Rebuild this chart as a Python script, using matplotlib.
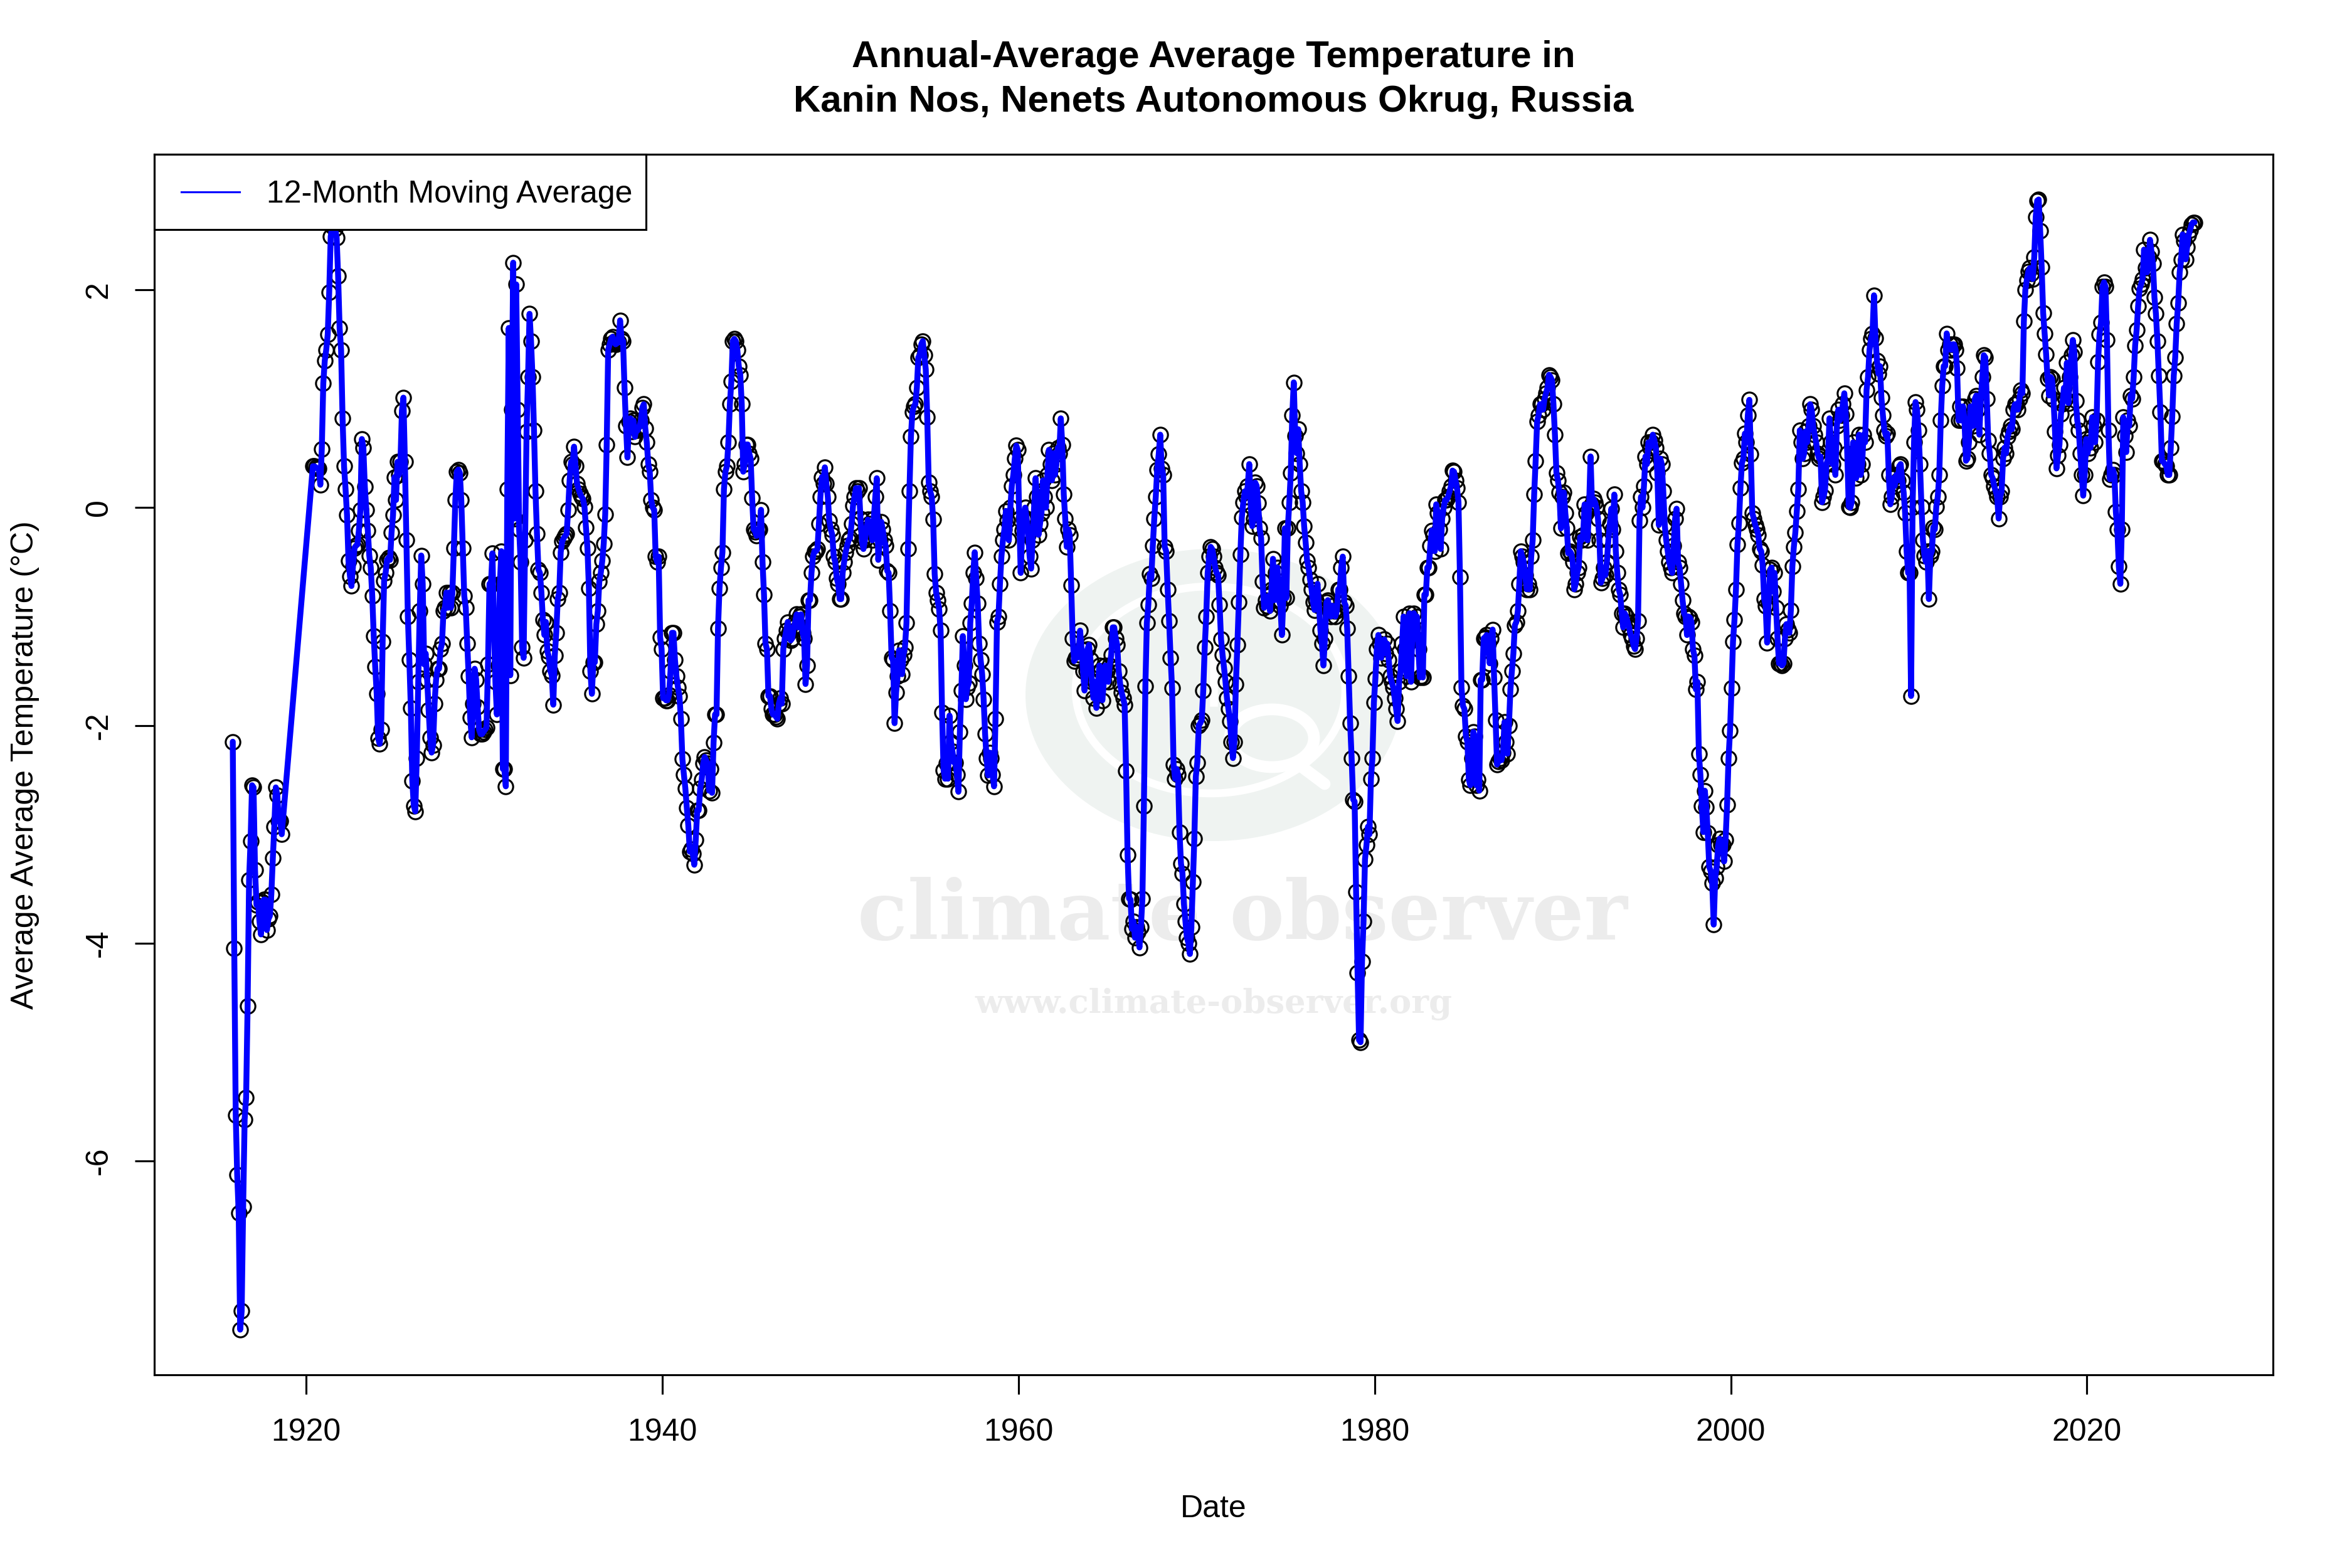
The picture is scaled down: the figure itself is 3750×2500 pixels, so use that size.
import numpy as np
import matplotlib
matplotlib.use("Agg")
import matplotlib.pyplot as plt
from matplotlib.lines import Line2D
from matplotlib.patches import Ellipse, Rectangle

TITLE = "Annual-Average Average Temperature in\nKanin Nos, Nenets Autonomous Okrug, Russia"
XLABEL = "Date"
YLABEL = "Average Average Temperature (°C)"
LEGEND_LABEL = "12-Month Moving Average"
X_TICKS = [1920, 1940, 1960, 1980, 2000, 2020]
Y_TICKS = [-6, -4, -2, 0, 2]
Y_TICK_LABELS = ["-6", "-4", "-2", "0", "2"]

# monthly values, first run starts Nov 1915
temps_1915_1918 = [
    -2.15, -4.05,
    -5.58, -6.13, -6.48, -7.55, -7.38, -6.42, -5.62, -5.42, -4.58, -3.42, -3.06, -2.55,
    -2.57, -3.33, -3.65, -3.62, -3.80, -3.92, -3.62, -3.60, -3.60, -3.88, -3.78, -3.75,
    -3.55, -3.22, -2.93, -2.57, -2.64, -2.88, -2.88, -3.00,
]
# second run starts May 1920
temps_1920s = [
    .38, .38, .37, .36, .36, .21, .54, 1.14,
    1.35, 1.45, 1.59, 1.98, 2.49, 2.58, 2.6, 2.56, 2.48, 2.13, 1.65, 1.45,
    .82, .38, .17, -.07, -.49, -.63, -.72, -.54, -.37, -.35, -.34, -.21,
    -.02, .63, .55, .19, -.02, -.21, -.44, -.55, -.81, -1.18, -1.46, -1.71,
    -2.12, -2.17, -2.04, -1.23, -.67, -.6, -.48, -.46, -.48, -.23, -.07, .28,
    .07, .42, .3, .42, .89, 1.01, .42, -.3, -1.0, -1.4, -1.84, -2.51,
    -2.74, -2.79, -2.3, -1.6, -.95, -.44, -.7, -1.44, -1.34, -1.58, -1.86, -2.11,
    -2.25, -2.18, -1.8, -1.58, -1.48, -1.48, -1.3, -1.25, -.95, -.92, -.78, -.92,
    -.78, -.92, -.78, -.37, .07, .33, .35, .32, .07, -.37, -.81, -.92,
    -1.25, -1.55, -1.93, -2.11, -1.8, -1.48, -1.58, -1.83, -2.04, -2.08, -2.08, -2.06,
]
temps_1930s = [
    -2.04, -2.02, -1.44, -.7, -.7, -.42, -1.1, -1.6, -1.9, -1.45, -.7, -.4,
    -2.4, -2.4, -2.56, .17, 1.65, -1.54, .9, 2.25, -.1, 2.05, .9, -.2,
    -.5, -1.28, -1.38, -.3, .7, 1.2, 1.78, 1.53, 1.2, .71, .15, -.24,
    -.57, -.6, -.78, -1.03, -1.17, -1.05, -1.32, -1.37, -1.5, -1.54, -1.81, -1.36,
    -1.15, -.84, -.78, -.41, -.31, -.28, -.26, -.24, -.02, .25, .42, .4,
    .56, .38, .22, .17, .13, .1, .08, .01, -.18, -.37, -.74, -1.5,
    -1.71, -1.42, -1.42, -1.07, -.95, -.68, -.6, -.49, -.33, -.06, .58, 1.45,
    1.5, 1.55, 1.57, 1.52, 1.5, 1.51, 1.52, 1.72, 1.55, 1.53, 1.1, .75,
    .46, .79, .82, .7, .8, .65, .72, .71, .74, .8, .92, .95,
    .73, .6, .4, .33, .07, 0, -.02, -.45, -.5, -.45, -1.19, -1.3,
]
temps_1940s = [
    -1.75, -1.75, -1.77, -1.77, -1.72, -1.5, -1.15, -1.15, -1.4, -1.55, -1.65, -1.73,
    -1.94, -2.31, -2.45, -2.58, -2.76, -2.92, -3.16, -3.14, -3.18, -3.28, -3.05, -2.78,
    -2.78, -2.58, -2.5, -2.35, -2.29, -2.32, -2.35, -2.6, -2.4, -2.62, -2.16, -1.9,
    -1.9, -1.11, -.74, -.55, -.41, .17, .33, .38, .6, .95, 1.16, 1.53,
    1.55, 1.53, 1.45, 1.3, 1.22, .95, .33, .4, .58, .58, .5, .45,
    .09, -.2, -.22, -.26, -.2, -.2, -.02, -.5, -.8, -1.25, -1.3, -1.73,
    -1.73, -1.85, -1.9, -1.9, -1.92, -1.94, -1.8, -1.75, -1.8, -1.3, -1.2, -1.13,
    -1.05, -1.15, -1.22, -1.2, -1.1, -1.05, -.98, -1.1, -1.0, -.98, -1.15, -1.2,
    -1.62, -1.45, -.85, -.85, -.6, -.45, -.4, -.4, -.38, -.15, .1, .28,
    .22, .37, .22, .1, -.12, -.2, -.25, -.45, -.5, -.65, -.7, -.84,
]
temps_1950s = [
    -.84, -.6, -.5, -.41, -.35, -.3, -.28, -.15, .02, .1, .18, .15,
    .18, -.1, -.31, -.38, -.3, -.2, -.11, -.15, -.18, -.3, -.1, .1,
    .27, -.48, -.3, -.13, -.2, -.3, -.35, -.58, -.6, -.95, -1.38, -1.4,
    -1.98, -1.7, -1.55, -1.31, -1.4, -1.53, -1.35, -1.28, -1.06, -.38, .15, .65,
    .88, .93, .95, 1.1, 1.38, 1.4, 1.5, 1.53, 1.4, 1.27, .83, .23,
    .15, .1, -.11, -.61, -.78, -.85, -.93, -1.13, -1.88, -2.41, -2.49, -2.35,
    -2.49, -1.91, -2.15, -2.24, -2.34, -2.34, -2.45, -2.61, -2.06, -1.68, -1.18, -1.45,
    -1.76, -1.65, -1.61, -1.06, -.88, -.6, -.41, -.65, -.88, -1.25, -1.4, -1.53,
    -1.76, -2.08, -2.3, -2.46, -2.25, -2.3, -2.45, -2.56, -1.94, -1.05, -1.0, -.7,
    -.45, -.3, -.2, -.03, -.12, -.3, 0, .2, .3, .45, .57, .53,
]
temps_1960s = [
    -.1, -.6, -.21, -.1, 0, -.1, -.25, -.45, -.56, -.3, 0, .27,
    .1, -.25, -.15, -.05, .25, .1, 0, .3, .53, .4, .25, .5,
    .3, .4, .55, .5, .82, .58, .12, -.1, -.36, -.2, -.25, -.71,
    -1.2, -1.41, -1.38, -1.38, -1.35, -1.13, -1.3, -1.5, -1.68, -1.5, -1.3, -1.26,
    -1.4, -1.6, -1.75, -1.6, -1.84, -1.65, -1.45, -1.5, -1.77, -1.6, -1.45, -1.5,
    -1.6, -1.45, -1.35, -1.1, -1.1, -1.2, -1.26, -1.5, -1.62, -1.7, -1.75, -1.81,
    -2.42, -3.19, -3.59, -3.6, -3.87, -3.8, -3.95, -3.85, -3.9, -4.04, -3.85, -3.59,
    -2.74, -1.64, -1.06, -.89, -.61, -.65, -.35, -.1, .1, .35, .49, .67,
    .36, .3, -.36, -.4, -.75, -1.04, -1.38, -1.66, -2.36, -2.49, -2.4, -2.45,
    -2.98, -3.27, -3.36, -3.64, -3.8, -3.95, -4.0, -4.1, -3.85, -3.44, -3.04, -2.47,
]
temps_1970s = [
    -2.34, -2.0, -1.98, -1.95, -1.68, -1.28, -1.0, -.6, -.45, -.36, -.38, -.45,
    -.55, -.6, -.62, -.89, -1.21, -1.35, -1.47, -1.6, -1.75, -1.85, -1.96, -2.15,
    -2.3, -2.15, -1.62, -1.26, -.87, -.43, -.09, .05, .15, .1, .2, .4,
    .02, -.17, -.1, .23, .2, .04, -.19, -.28, -.68, -.92, -.85, -.9,
    -.81, -.95, -.75, -.47, -.85, -.6, -.55, -.85, -.9, -1.17, -.83, -.19,
    -.83, -.19, .05, .32, .85, 1.15, .66, .5, .72, .4, .15, .05,
    -.17, -.32, -.49, -.55, -.66, -.75, -.87, -.94, -.85, -.7, -.9, -1.13,
    -1.25, -1.45, -1.2, -.87, -.85, -.95, -1.0, -.9, -.95, -1.0, -.95, -.75,
    -.75, -.55, -.45, -.87, -.9, -1.11, -1.55, -1.98, -2.3, -2.68, -2.7, -3.53,
    -4.27, -4.89, -4.91, -4.17, -3.8, -3.23, -3.1, -2.93, -3.0, -2.49, -2.3, -1.79,
]
temps_1980s = [
    -1.57, -1.3, -1.17, -1.25, -1.38, -1.3, -1.21, -1.34, -1.25, -1.4, -1.55, -1.6,
    -1.65, -1.75, -1.85, -1.96, -1.6, -1.5, -1.25, -1.0, -1.3, -1.55, -1.25, -.97,
    -1.6, -1.1, -.97, -1.2, -1.0, -1.3, -1.56, -1.55, -1.56, -.8, -.8, -.55,
    -.55, -.35, -.21, -.25, -.4, .03, -.05, -.2, -.38, -.1, 0, .07,
    .07, .1, .15, .2, .34, .33, .25, .18, .05, -.64, -1.65, -1.82,
    -1.85, -2.1, -2.15, -2.5, -2.55, -2.3, -2.06, -2.1, -2.55, -2.5, -2.6, -1.58,
    -1.58, -1.2, -1.19, -1.17, -1.25, -1.43, -1.2, -1.12, -1.56, -1.95, -2.36, -2.33,
    -2.3, -2.32, -2.25, -1.97, -2.15, -2.26, -2.0, -1.67, -1.5, -1.34, -1.08, -1.05,
    -.95, -.7, -.4, -.45, -.5, -.62, -.75, -.7, -.75, -.45, -.3, .12,
    .43, .79, .85, .95, .95, .9, 1.0, 1.05, 1.1, 1.22, 1.2, 1.17,
]
temps_1990s = [
    .95, .67, .32, .25, .14, -.19, .1, .14, -.05, -.19, -.42, -.4,
    -.42, -.5, -.75, -.7, -.6, -.55, -.27, -.3, -.25, .03, -.05, -.3,
    0, .47, .03, .08, .05, 0, -.1, -.3, -.69, -.65, -.55, -.62,
    -.5, -.3, -.15, -.01, -.2, .12, -.4, -.6, -.75, -.8, -.97, -1.1,
    -.97, -1.0, -1.05, -1.1, -1.17, -1.2, -1.27, -1.3, -1.2, -1.04, -.12, .1,
    0, .2, .47, .4, .6, .55, .6, .67, .62, .55, .32, -.16,
    .45, .4, .15, -.16, -.3, -.4, -.5, -.55, -.6, -.35, -.1, -.01,
    -.5, -.55, -.7, -.85, -.97, -1.0, -1.17, -1.0, -1.01, -1.05, -1.3, -1.36,
    -1.67, -1.6, -2.26, -2.45, -2.74, -2.98, -2.6, -2.75, -2.99, -3.3, -3.34, -3.45,
    -3.83, -3.4, -3.3, -3.1, -3.04, -3.1, -3.1, -3.25, -3.05, -2.73, -2.3, -2.05,
]
temps_2000s = [
    -1.66, -1.23, -1.03, -.75, -.34, -.14, .18, .41, .45, .68, .6, .85,
    .99, .49, -.05, -.1, -.16, -.2, -.25, -.38, -.4, -.53, -.84, -.9,
    -1.24, -.88, -.57, -.55, -.77, -.6, -.92, -1.2, -1.43, -1.43, -1.45, -1.43,
    -1.2, -1.07, -1.12, -1.15, -.94, -.54, -.36, -.23, -.03, .17, .71, .6,
    .45, .5, .7, .6, .75, .95, .9, .75, .67, .6, .5, .45,
    .47, .05, .1, .16, .4, .45, .82, .6, .4, .55, .3, .75,
    .9, .8, .85, .95, 1.05, .86, .5, .01, 0, .05, .6, .45,
    .27, .4, .67, .3, .4, .67, .6, 1.08, 1.2, 1.45, 1.55, 1.6,
    1.95, 1.56, 1.35, 1.23, 1.3, 1.01, .85, .71, .66, .68, .3, .03,
    .1, .27, .2, .3, .25, .38, .4, .25, .14, -.05, -.4, -.6,
]
temps_2010s = [
    -.6, -1.73, 0, .6, .97, .9, .71, .4, .01, -.3, -.44, -.5,
    -.4, -.84, -.44, -.4, -.18, -.2, .01, .1, .3, .8, 1.12, 1.3,
    1.3, 1.6, 1.45, 1.5, 1.45, 1.5, 1.5, 1.45, 1.28, .8, .93, .8,
    .93, .8, .43, .45, .6, .93, .85, .75, 1.0, 1.03, .9, .67,
    1.0, 1.2, 1.4, 1.38, 1.0, .62, .5, .3, .27, .2, .15, .1,
    -.1, .1, .15, .45, .55, .5, .65, .7, .75, .72, .9, .95,
    .95, .9, 1.0, 1.08, 1.05, 1.71, 2.0, 2.09, 2.17, 2.2, 2.15, 2.1,
    2.3, 2.67, 2.82, 2.83, 2.54, 2.21, 1.79, 1.6, 1.41, 1.18, 1.03, 1.2,
    1.18, .99, .7, .36, .48, .58, .86, .95, 1.1, 1.0, 1.33, .96,
    1.2, 1.4, 1.54, 1.43, .98, .8, .71, .5, .3, .11, .3, .63,
]
temps_2020s = [
    .5, .6, .55, .83, .75, .6, .8, 1.34, 1.59, 1.7, 2.03, 2.07,
    2.03, 1.54, .71, .26, .3, .35, .3, -.04, -.2, -.54, -.7, -.2,
    .83, .66, .51, .8, .75, 1.03, 1.0, 1.2, 1.49, 1.63, 1.85, 2.01,
    2.05, 2.1, 2.37, 2.2, 2.16, 2.3, 2.46, 2.35, 2.24, 1.93, 1.78, 1.53,
    1.21, .88, .43, .42, .4, .38, .3, .3, .55, .84, 1.21, 1.38,
    1.69, 1.88, 2.16, 2.28, 2.51, 2.45, 2.28, 2.39, 2.5, 2.55, 2.6, 2.62,
    2.62,
]

early = np.array(temps_1915_1918)
later = np.array(temps_1920s + temps_1930s + temps_1940s + temps_1950s + temps_1960s
                 + temps_1970s + temps_1980s + temps_1990s + temps_2000s + temps_2010s + temps_2020s)
values = np.concatenate([early, later])
dates = np.concatenate([1915 + 10.5 / 12 + np.arange(early.size) / 12,
                        1920 + 4.5 / 12 + np.arange(later.size) / 12])

W, H, DPI = 3750, 2500, 300
plt.rcParams["font.family"] = ["Liberation Sans", "DejaVu Sans"]
plt.rcParams["axes.unicode_minus"] = False
fig = plt.figure(figsize=(W / DPI, H / DPI), dpi=DPI, facecolor="white")

# watermark layer, in pixel coordinates
bg = fig.add_axes([0, 0, 1, 1], zorder=0)
bg.set_xlim(0, W)
bg.set_ylim(H, 0)
bg.axis("off")
bg.add_patch(Ellipse((1935, 1108), 600, 466, fc="#eff3f1", ec="none"))
bg.add_patch(Ellipse((1930, 1100), 430, 330, fc="none", ec="white", lw=3))
bg.add_patch(Ellipse((2028, 1177), 134, 92, fc="#eff3f1", ec="white", lw=4.5))
bg.plot([2068, 2112], [1217, 1250], color="white", lw=4.5, solid_capstyle="round")
bg.plot([1935, 1935], [960, 1120], color="white", lw=3)
bg.text(1981, 1461, "climate observer", family="DejaVu Serif", weight="bold",
        fontsize=31.5, color="#ececec", ha="center", va="center")
bg.text(1935, 1601, "www.climate-observer.org", family="DejaVu Serif", weight="bold",
        fontsize=12.7, color="#ececec", ha="center", va="center")

L, R, T, B = 246, 3624, 246, 2192
ax = fig.add_axes([L / W, 1 - B / H, (R - L) / W, (B - T) / H], zorder=1)
ax.patch.set_alpha(0)
ax.plot(dates, values, ls="none", marker="o", ms=5.6, mfc="none", mec="black", mew=0.75)
ax.plot(dates, values, color="#0000ff", lw=2.25, solid_capstyle="round", solid_joinstyle="round")

span_x = dates.max() - dates.min()
span_y = values.max() - values.min()
ax.set_xlim(dates.min() - 0.04 * span_x, dates.max() + 0.04 * span_x)
ax.set_ylim(values.min() - 0.04 * span_y, values.max() + 0.04 * span_y)

ax.set_xticks(X_TICKS)
ax.set_yticks(Y_TICKS)
ax.set_yticklabels(Y_TICK_LABELS, rotation=90, va="center")
ax.tick_params(length=7.5, width=0.75, labelsize=12, pad=9)
ax.tick_params(axis="y", pad=8.2)
for s in ax.spines.values():
    s.set_linewidth(0.75)

fig.text(1935 / W, 1 - 2406 / H, XLABEL, fontsize=12, ha="center", va="center")
fig.text(40 / W, 1 - 1220 / H, YLABEL, fontsize=12, rotation=90, ha="center", va="center")
fig.text(1935 / W, 1 - 127 / H, TITLE, fontsize=14.4, weight="bold", ha="center", va="center",
         linespacing=1.38)

# legend box drawn to the reference's uneven padding, with a real legend inside it
ax.add_patch(Rectangle((L / W, 1 - 366 / H), (1030 - L) / W, 120 / H, transform=fig.transFigure,
                       fc="white", ec="black", lw=0.75, zorder=4, clip_on=False))
handle = Line2D([], [], color="#0000ff", lw=0.75)
leg = ax.legend([handle], [LEGEND_LABEL], loc="center left", bbox_to_anchor=(289 / W, 1 - 310 / H),
                bbox_transform=fig.transFigure, borderaxespad=0, fontsize=12, frameon=False,
                borderpad=0, handlelength=1.86, handletextpad=0.86)
leg.set_zorder(5)

fig.savefig("out.png", dpi=DPI)
